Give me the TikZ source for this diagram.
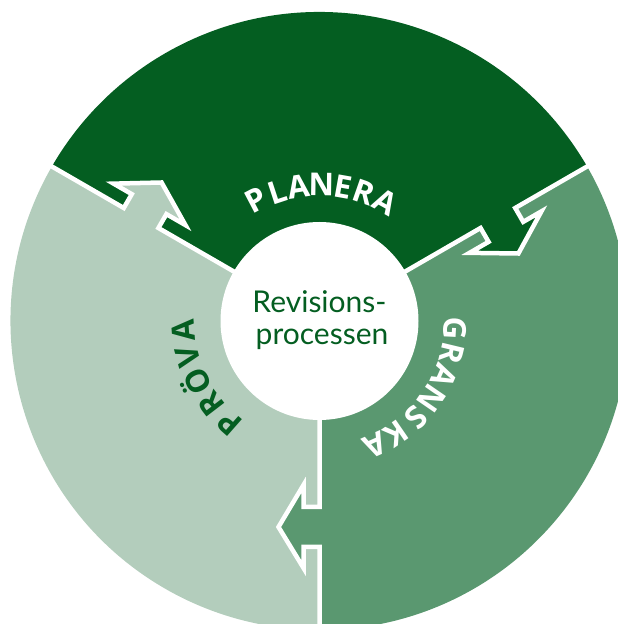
\documentclass[tikz,border=0pt]{standalone}
\usepackage{fontspec}
\setmainfont{Lato}
\newfontfamily\lblfont{Open Sans}
\definecolor{dkg}{HTML}{045E21}
\definecolor{mdg}{HTML}{5A9870}
\definecolor{ltg}{HTML}{B3CDBC}
\begin{document}
\begin{tikzpicture}[x=1pt,y=1pt,
  sep/.style={draw=white, line width=4.5pt, line join=miter},
  lbl/.style={font=\lblfont\bfseries\fontsize{31.5}{32}\selectfont, inner sep=0pt, anchor=base},
  ctr/.style={font=\fontsize{30}{32}\selectfont, text=dkg, inner sep=0pt, anchor=base},
]
\useasboundingbox (0,0) rectangle (618,624);
\clip (0,0) rectangle (618,624);
\coordinate (O) at (319.5,303);
% sectors
\fill[dkg] (O) -- ++(30:309) arc[start angle=30, end angle=150, radius=309] -- cycle;
\fill[ltg] (O) -- ++(150:309) arc[start angle=150, end angle=270, radius=309] -- cycle;
\fill[mdg] (O) -- ++(270:309) arc[start angle=270, end angle=390, radius=309] -- cycle;
% separators with arrows
\foreach \t/\c in {30/dkg, 150/ltg, 270/mdg}{
  \begin{scope}[shift={(O)}, rotate=\t]
    \fill[\c] (186,1) -- (186,-16) -- (164,-16) -- (206,-41) -- (247,-16) -- (226,-16) -- (226,1) -- cycle;
    \draw[sep] (90,0) -- (186,0) -- (186,-16) -- (164,-16) -- (206,-41) -- (247,-16) -- (226,-16) -- (226,0) -- (330,0);
  \end{scope}
}
% hub
\node[circle, fill=white, minimum size=198pt, inner sep=0pt] (hub) at (O) {};
\node[ctr] (t1) at (319.5,311) {Revisions-};
\node[ctr] (t2) at (322,279) {processen};
% labels
\foreach \ch/\a [count=\i] in {P/117.7, L/108.2, A/98.8, N/89.2, E/79.9, R/70.8, A/60.8}{
  \node[lbl, text=white, rotate=\a-90] (pl\i) at ([shift={(\a:125)}]O) {\ch};
}
\foreach \ch/\a [count=\i] in {G/-3, R/-13.5, A/-24, N/-34.5, S/-45, K/-55.5, A/-66}{
  \node[lbl, text=white, rotate=\a-90] (gr\i) at ([shift={(\a:125)}]O) {\ch};
}
\foreach \ch/\a [count=\i] in {P/228.6, R/217.5, Ö/206.4, V/195.3, A/184.2}{
  \node[lbl, text=dkg, rotate=\a-90] (pr\i) at ([shift={(\a:125)}]O) {\ch};
}
\end{tikzpicture}
\end{document}
